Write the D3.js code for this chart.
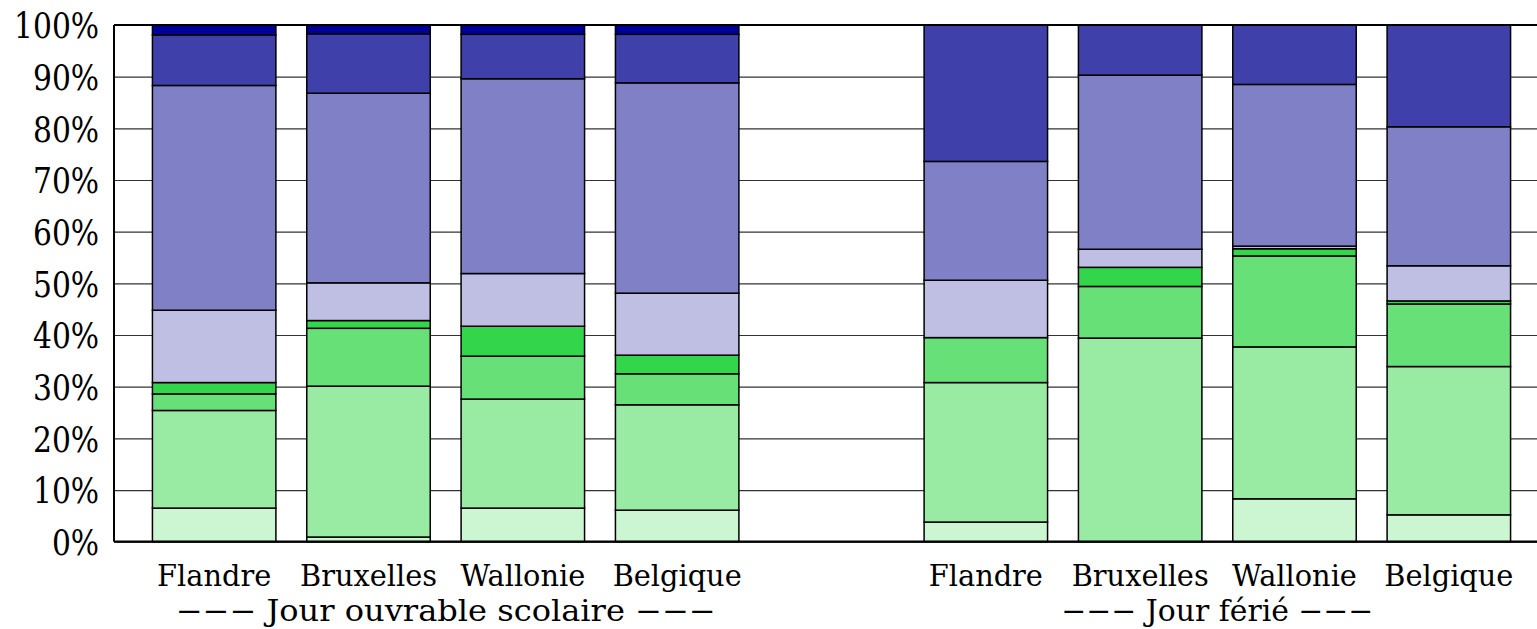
<!DOCTYPE html>
<html>
<head>
<meta charset="utf-8">
<script src="https://cdn.jsdelivr.net/npm/d3@7"></script>
<style>
  html, body { margin: 0; padding: 0; background: #fff; }
  svg { display: block; }
</style>
</head>
<body>
<svg id="chart" width="1537" height="629"></svg>
<script>
// ---- data ----
const categories = ["Flandre", "Bruxelles", "Wallonie", "Belgique"];
const groups = ["−−− Jour ouvrable scolaire −−−", "−−− Jour férié −−−"];
const yTicks = [0, 10, 20, 30, 40, 50, 60, 70, 80, 90, 100];

// shares (%) per bar: 4 bars "Jour ouvrable scolaire", then 4 bars "Jour férié"
const share1 = [6.5, 0.9, 6.5, 6.1, 3.8, 0.0, 8.3, 5.2];
const share2 = [18.9, 29.2, 21.1, 20.4, 27.0, 39.4, 29.4, 28.7];
const share3 = [3.2, 11.2, 8.3, 6.0, 8.7, 10.0, 17.6, 12.1];
const share4 = [2.2, 1.5, 5.8, 3.6, 0.0, 3.7, 1.4, 0.6];
const share5 = [14.0, 7.3, 10.2, 12.0, 11.1, 3.5, 0.5, 6.8];
const share6 = [43.5, 36.7, 37.7, 40.7, 23.0, 33.7, 31.3, 26.9];
const share7 = [9.8, 11.5, 8.6, 9.4, 26.4, 9.7, 11.5, 19.7];
const share8 = [1.9, 1.7, 1.8, 1.8, 0.0, 0.0, 0.0, 0.0];
const seriesColors = ["#ccf5d2", "#99eba3", "#66e077", "#33d64a", "#bfbfe3", "#8080c6", "#4040aa", "#000099"];

// ---- build table ----
const series = [share1, share2, share3, share4, share5, share6, share7, share8];
const keys = series.map((_, i) => "s" + i);
const barKeys = [];
groups.forEach((g, gi) => categories.forEach(c => barKeys.push(gi + "|" + c)));
const slots = [...barKeys.slice(0, 4), "gap", ...barKeys.slice(4)];
const table = barKeys.map((k, bi) => {
  const row = { key: k };
  keys.forEach((s, si) => row[s] = series[si][bi]);
  return row;
});
const stacked = d3.stack().keys(keys)(table);

// ---- layout ----
const svg = d3.select("#chart");
const plotL = 114, plotR = 1537, plotT = 25, plotB = 541.7;
const serif = "'DejaVu Serif', 'Liberation Serif', serif";

const x = d3.scaleBand().domain(slots).range([137, 1526]).paddingInner(0.2).paddingOuter(0.1);
const y = d3.scaleLinear().domain([0, 100]).range([plotB, plotT]);

// gridlines + y labels
const yAxis = d3.axisLeft(y).tickValues(yTicks).tickFormat(d => d + "%")
  .tickSize(-(plotR - plotL)).tickPadding(16);
const gy = svg.append("g").attr("transform", `translate(${plotL},0)`).call(yAxis)
  .attr("font-family", serif);
gy.select(".domain").remove();
gy.selectAll(".tick line").attr("stroke", "#333").attr("stroke-width", 1.2);
gy.selectAll(".tick text").attr("font-size", 32).attr("dy", "0.36em")
  .attr("transform", "scale(0.93,1.1)");

// bars
const gb = svg.append("g");
stacked.forEach((layer, li) => {
  gb.append("g").attr("fill", seriesColors[li])
    .selectAll("rect")
    .data(layer.filter(d => d[1] - d[0] > 0))
    .join("rect")
    .attr("x", d => x(d.data.key))
    .attr("width", x.bandwidth())
    .attr("y", d => y(d[1]))
    .attr("height", d => y(d[0]) - y(d[1]))
    .attr("stroke", "#000")
    .attr("stroke-width", 1.5);
});

// frame lines
svg.append("line").attr("x1", plotL).attr("x2", plotR).attr("y1", plotT).attr("y2", plotT)
  .attr("stroke", "#000").attr("stroke-width", 2);
svg.append("line").attr("x1", plotL).attr("x2", plotR).attr("y1", plotB).attr("y2", plotB)
  .attr("stroke", "#000").attr("stroke-width", 2.2);
svg.append("line").attr("x1", plotL).attr("x2", plotL).attr("y1", plotT).attr("y2", plotB)
  .attr("stroke", "#000").attr("stroke-width", 2);

// x category labels (narrowed to the reference's serif widths)
const xAxis = d3.axisBottom(x).tickValues(barKeys).tickFormat(k => k.split("|")[1])
  .tickSize(0).tickPadding(0);
const gx = svg.append("g").attr("transform", `translate(0,${plotB})`).call(xAxis)
  .attr("font-family", serif);
gx.select(".domain").remove();
const catTexts = gx.selectAll(".tick text").attr("y", 44).attr("dy", 0).attr("font-size", 30);
const widthRef = catTexts.filter(k => k.endsWith("Bruxelles")).node().getComputedTextLength();
const shrink = 137 / widthRef;
catTexts.each(function () {
  const w = this.getComputedTextLength();
  d3.select(this).attr("textLength", w * shrink).attr("lengthAdjust", "spacingAndGlyphs");
});

// group labels
groups.forEach((g, gi) => {
  const b1 = barKeys[gi * 4 + 1], b2 = barKeys[gi * 4 + 2];
  const cx = (x(b1) + x(b2) + x.bandwidth()) / 2;
  svg.append("text").attr("x", cx).attr("y", 621).attr("text-anchor", "middle")
    .attr("font-family", serif).attr("font-size", 29).text(g)
    .attr("textLength", gi === 0 ? 540 : 312).attr("lengthAdjust", "spacingAndGlyphs");
});
</script>
</body>
</html>
